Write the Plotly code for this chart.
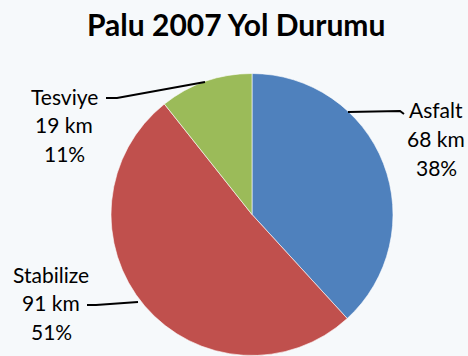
import plotly.graph_objects as go

# Road surface lengths in Palu, 2007 (km)
categories = ["Asfalt", "Stabilize", "Tesviye"]
lengths_km = [68, 91, 19]
colors = ["#4f81bd", "#c0504d", "#9bbb59"]

W, H = 468, 356
BG = "#f6f9fb"
FONT = "Lato"

total = sum(lengths_km)
percents = [round(v * 100 / total) for v in lengths_km]


def px(x, y):
    """Pixel position (origin top-left) -> paper coordinates."""
    return x / W, 1 - y / H


# pie centre and radius in pixels
cx, cy, r = 252, 214.5, 141
x0, y0 = px(cx - r, cy - r)
x1, y1 = px(cx + r, cy + r)

fig = go.Figure(
    go.Pie(
        labels=categories,
        values=lengths_km,
        marker=dict(colors=colors, line=dict(color="#ffffff", width=0.6)),
        sort=False,
        direction="clockwise",
        rotation=0,
        textinfo="none",
        hoverinfo="label+value+percent",
        domain=dict(x=[x0, x1], y=[y1, y0]),
        showlegend=False,
    )
)

# label blocks: centre x and y of first line (pixels)
label_pos = {
    "Asfalt": (436, 110),
    "Stabilize": (51, 274),
    "Tesviye": (64, 96),
}
line_gap = 28.5

annotations = []
for name, km, pct in zip(categories, lengths_km, percents):
    lx, ly = label_pos[name]
    for i, txt in enumerate([name, f"{km} km", f"{pct}%"]):
        ax, ay = px(lx, ly + i * line_gap)
        annotations.append(
            dict(
                x=ax, y=ay, xref="paper", yref="paper",
                text=txt, showarrow=False,
                xanchor="center", yanchor="middle",
                font=dict(family=FONT, size=21, color="#000000"),
            )
        )

# chart title
tx, ty = px(235.5, 24)
annotations.append(
    dict(
        x=tx, y=ty, xref="paper", yref="paper",
        text="<b>Palu 2007 Yol Durumu</b>", showarrow=False,
        xanchor="center", yanchor="middle",
        font=dict(family=FONT, size=30, color="#000000"),
    )
)

# leader lines from labels to slices (pixel paths)
leaders = [
    [(348, 112), (400, 111), (404, 114)],
    [(106, 98), (117, 98), (205, 82)],
    [(87, 305), (96, 305), (138, 302)],
]
shapes = []
for pts in leaders:
    path = ""
    for j, (x, y) in enumerate(pts):
        ppx, ppy = px(x, y)
        path += ("M" if j == 0 else "L") + f"{ppx},{ppy} "
    shapes.append(
        dict(type="path", xref="paper", yref="paper", path=path.strip(),
             line=dict(color="#000000", width=2))
    )

fig.update_layout(
    width=W, height=H,
    margin=dict(l=0, r=0, t=0, b=0),
    paper_bgcolor=BG, plot_bgcolor=BG,
    annotations=annotations,
    shapes=shapes,
)

fig.write_html("out.html")
